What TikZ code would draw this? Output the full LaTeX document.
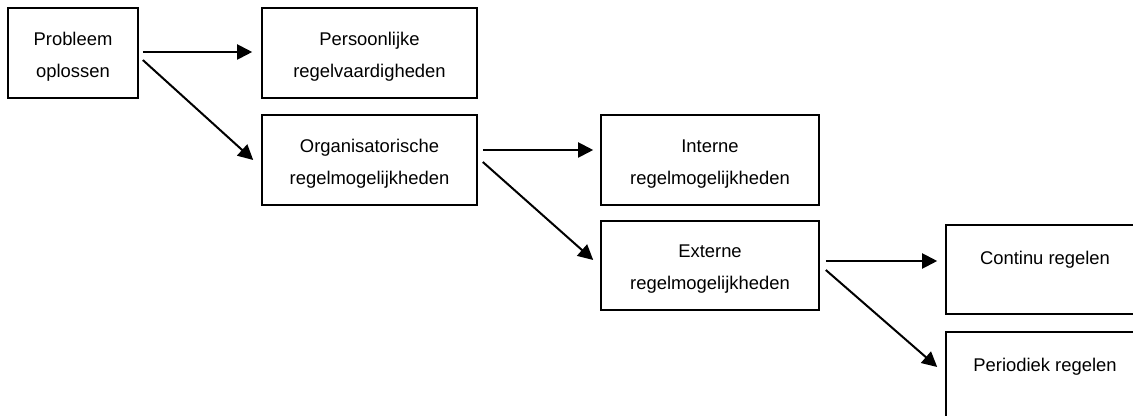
\documentclass[tikz,border=0pt]{standalone}
\usepackage{fontspec}
\setmainfont{Liberation Sans}
\usetikzlibrary{arrows.meta}
\begin{document}
\begin{tikzpicture}[x=0.5pt,y=-0.5pt,
  box/.style={draw=black,line width=0.8pt,minimum height=45pt,inner sep=0pt},
  txt/.style={align=center,inner sep=0pt,font=\fontsize{9.2pt}{16pt}\selectfont},
  conn/.style={line width=1pt,-{Triangle[length=7.5pt,width=7.5pt]}}]
\clip (0,0) rectangle (1133,416);
\useasboundingbox (0,0) rectangle (1133,416);
\node[box,minimum width=65pt] (a) at (73,53) {};
\node[box,minimum width=107.5pt] (b) at (369.5,53) {};
\node[box,minimum width=107.5pt] (c) at (369.5,160) {};
\node[box,minimum width=109pt] (d) at (710,160) {};
\node[box,minimum width=109pt,minimum height=44.5pt] (e) at (710,265.5) {};
\node[box,minimum width=99pt,minimum height=44.5pt] (f) at (1045,269.5) {};
\node[box,minimum width=99pt,minimum height=44.5pt] (g) at (1045,376.5) {};
\node[txt] (at) at ([yshift=-2pt]a.center) {Probleem\\oplossen};
\node[txt] (bt) at ([yshift=-2pt]b.center) {Persoonlijke\\regelvaardigheden};
\node[txt] (ct) at ([yshift=-2pt]c.center) {Organisatorische\\regelmogelijkheden};
\node[txt] (dt) at ([yshift=-2pt]d.center) {Interne\\regelmogelijkheden};
\node[txt] (et) at ([yshift=-2pt]e.center) {Externe\\regelmogelijkheden};
\node[txt] (ft) at ([yshift=-2pt]f.center) {Continu regelen\\\mbox{}};
\node[txt] (gt) at ([yshift=-2pt]g.center) {Periodiek regelen\\\mbox{}};
\draw[conn] ([xshift=2pt,yshift=0.5pt]a.east) -- ([xshift=-4.5pt,yshift=0.5pt]b.west);
\draw[conn] ([xshift=2pt,yshift=-3.5pt]a.east) -- ([xshift=-4pt]c.west);
\draw[conn] ([xshift=2.5pt,yshift=5pt]c.east) -- ([xshift=-3.5pt,yshift=5pt]d.west);
\draw[conn] ([xshift=2.5pt,yshift=-1pt]c.east) -- ([xshift=-3.5pt,yshift=2.75pt]e.west);
\draw[conn] ([xshift=3pt,yshift=2.25pt]e.east) -- ([xshift=-4pt,yshift=4.25pt]f.west);
\draw[conn] ([xshift=3pt,yshift=-2.25pt]e.east) -- ([xshift=-4pt,yshift=4.75pt]g.west);
\end{tikzpicture}
\end{document}
